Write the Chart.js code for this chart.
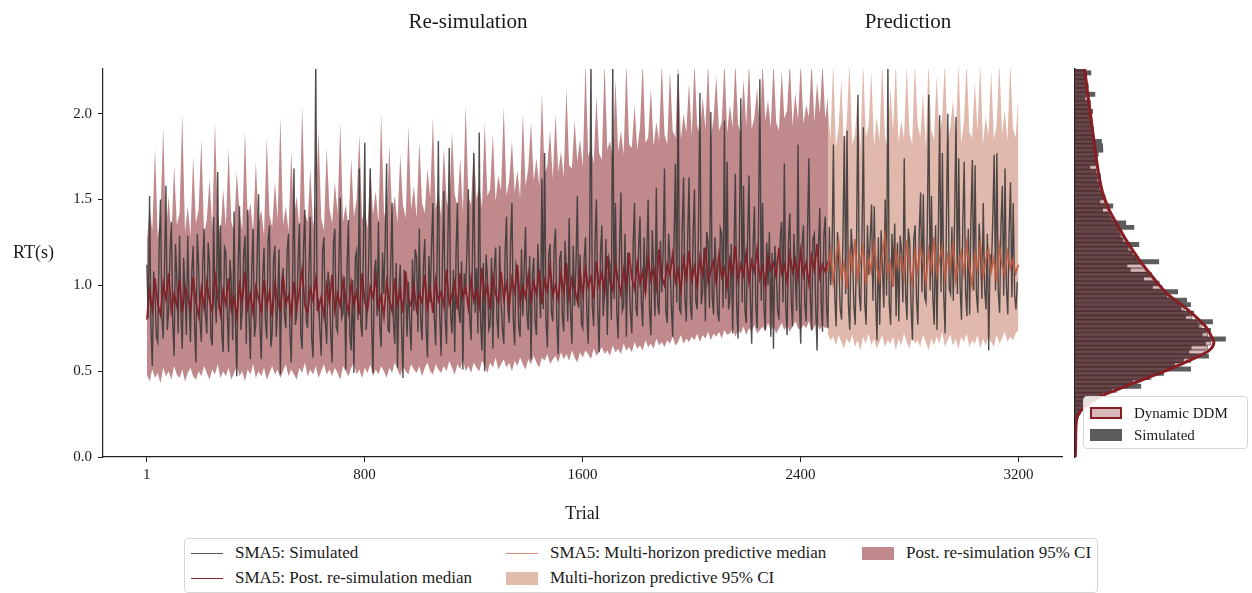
<!DOCTYPE html>
<html>
<head>
<meta charset="utf-8">
<title>SMA5 re-simulation and prediction</title>
<script src="https://cdn.jsdelivr.net/npm/chart.js@4.4.1/dist/chart.umd.min.js"></script>
<style>
  body { margin: 0; background: #fff; font-family: "Liberation Serif", "DejaVu Serif", serif; color: #1a1a1a; }
  #page { position: relative; width: 1252px; height: 593px; overflow: hidden; }
  #main-chart { position: absolute; left: 0; top: 0; }
  #hist-chart { position: absolute; left: 1062px; top: 0; z-index: 2; }
  .txt { position: absolute; white-space: nowrap; }
  .panel-title { font-size: 21px; line-height: 24px; top: 9px; transform: translateX(-50%); }
  #y-title { left: 13px; top: 241px; font-size: 18px; line-height: 22px; }
  .legend-box { position: absolute; border: 1px solid #d6d6d6; border-radius: 4px; background: rgba(255,255,255,0.85); }
  #legend { left: 184px; top: 538px; width: 912px; height: 53px; }
  #hist-legend { left: 1083px; top: 396px; width: 163px; height: 51px; z-index: 3; }
  .item { position: absolute; display: flex; align-items: center; white-space: nowrap; }
  #legend .item { font-size: 17px; height: 20px; }
  #hist-legend .item { font-size: 15px; height: 18px; left: 6px; }
  .sample-line { width: 32px; height: 0; border-top: 1.6px solid; margin-right: 12px; }
  .sample-patch { width: 32px; height: 13px; margin-right: 12px; box-sizing: border-box; }
</style>
</head>
<body>
<div id="page">
  <canvas id="main-chart" width="1070" height="530"></canvas>
  <canvas id="hist-chart" width="190" height="530"></canvas>

  <div class="txt panel-title" style="left:468px">Re-simulation</div>
  <div class="txt panel-title" style="left:908px">Prediction</div>
  <div class="txt" id="y-title">RT(s)</div>

  <div class="legend-box" id="legend"></div>
  <div class="legend-box" id="hist-legend"></div>
</div>

<script>
// --- Данные: симулированный ряд SMA5 (шаг 5 испытаний) ---
const simTrialStart = 1;
const simTrialStep = 5;
const simulated = [
  1.12, 0.81, 1.52, 0.76, 0.53, 1.08, 0.95, 0.70, 0.67, 1.21, 1.50, 0.82, 0.69, 1.12, 1.58, 0.74, 0.85, 1.19, 1.37, 0.78,
  0.59, 1.24, 1.05, 0.72, 1.29, 0.84, 0.63, 1.16, 0.98, 0.71, 1.29, 0.90, 0.67, 1.08, 1.23, 0.77, 0.55, 1.30, 1.11, 0.79,
  0.67, 1.12, 1.33, 0.83, 0.72, 1.25, 1.13, 0.70, 0.65, 1.40, 0.92, 0.78, 1.66, 0.86, 1.35, 0.73, 0.61, 1.22, 1.19, 0.84,
  0.61, 1.15, 1.02, 0.68, 1.43, 0.79, 0.47, 1.10, 1.46, 0.74, 0.85, 1.17, 1.29, 0.66, 1.44, 0.82, 0.57, 1.09, 1.33, 0.70,
  0.78, 1.18, 1.53, 0.76, 0.57, 1.04, 1.22, 0.80, 0.69, 1.26, 1.35, 0.64, 0.72, 1.15, 1.23, 0.70, 0.88, 1.21, 0.48, 1.02,
  1.10, 0.83, 0.75, 1.20, 1.30, 0.73,
  0.55, 1.05, 1.68, 0.77, 0.82, 1.14, 1.36, 0.71, 0.63, 1.22, 1.44, 0.80, 0.75, 1.10, 1.40, 0.69, 0.58, 1.18, 2.30, 0.85,
  0.92, 0.74, 0.59, 1.20, 1.28, 0.79, 0.66, 1.08, 1.00, 0.71, 0.55, 1.25, 1.33, 0.76, 0.73, 1.14, 1.51, 0.81, 0.84, 1.05,
  0.51, 1.12, 1.38, 0.72, 0.62, 1.03, 0.49, 1.16, 1.20, 0.80, 1.68, 0.78, 0.70, 1.24, 1.83, 0.74, 0.88, 1.20, 1.68, 0.77,
  0.49, 1.08, 1.15, 0.82, 1.37, 0.76, 0.64, 1.19, 0.95, 1.27, 1.71, 0.74, 0.73, 1.12, 1.48, 0.79, 0.66, 1.13, 0.52, 0.96,
  1.12, 0.75, 0.46, 1.09, 0.98, 0.70, 1.02, 0.78, 0.62, 1.15, 0.85, 1.21, 1.16, 0.73, 1.33, 0.80, 0.68, 1.11, 1.27, 0.76,
  0.58, 1.17, 0.90, 1.24, 1.48, 0.81,
  0.65, 1.10, 1.84, 0.83, 0.59, 1.15, 1.55, 0.80, 0.66, 1.26, 1.80, 0.82, 0.72, 1.09, 0.61, 1.20, 1.48, 0.85, 0.78, 1.14,
  0.51, 1.07, 0.95, 1.22, 1.56, 0.80, 0.68, 1.17, 1.77, 0.84, 1.10, 0.72, 1.89, 0.78, 0.62, 1.13, 0.50, 1.18, 1.05, 0.74,
  0.77, 1.16, 0.63, 1.09, 1.22, 0.81, 0.69, 1.23, 0.92, 0.75, 0.66, 1.19, 1.40, 0.86, 0.78, 1.25, 1.48, 0.80, 0.65, 1.12,
  1.08, 0.76, 0.70, 1.21, 0.82, 1.10, 1.34, 0.83, 0.74, 1.17, 0.57, 1.06, 1.16, 0.79, 0.71, 1.24, 1.02, 0.81, 1.62, 0.86,
  1.77, 0.80, 0.64, 1.18, 1.24, 0.84, 0.79, 1.22, 1.33, 0.77, 0.60, 1.15, 1.20, 0.82, 0.73, 1.26, 1.05, 0.79, 1.39, 0.84,
  0.66, 1.23, 0.88, 1.11, 1.52, 0.87, 1.18, 0.78,
  0.75, 1.15, 1.28, 0.84, 0.66, 1.20, 2.30, 0.88, 0.76, 1.25, 1.50, 0.86, 0.61, 1.18, 1.35, 0.82, 0.96, 1.27, 0.71, 1.16,
  1.12, 0.80, 2.30, 0.92, 1.48, 0.83, 0.69, 1.22, 1.54, 0.85, 0.88, 1.30, 0.70, 1.19, 1.05, 0.84, 0.72, 1.24, 1.48, 0.87,
  0.82, 1.21, 1.40, 0.90, 0.76, 1.28, 0.95, 1.17, 1.50, 0.86, 0.71, 1.32, 1.10, 0.82, 1.57, 0.89, 0.83, 1.26, 0.96, 1.20,
  1.68, 0.85, 0.78, 1.30, 1.15, 0.88, 0.70, 1.24, 1.71, 0.90, 2.23, 0.86, 0.84, 1.33, 1.63, 0.92, 0.79, 1.27, 1.63, 0.88,
  0.80, 1.29, 1.56, 0.91, 0.86, 1.35, 2.12, 0.89, 0.96, 1.22, 0.79, 1.31, 1.25, 0.87, 2.01, 0.93, 0.83, 1.28, 1.10, 0.84,
  0.79, 1.33, 1.30, 0.87, 1.96, 0.92, 1.72, 0.86,
  0.92, 1.24, 0.72, 1.18, 1.65, 0.88, 0.69, 1.30, 2.09, 0.90, 1.58, 0.86, 0.78, 1.27, 1.64, 0.92, 0.66, 1.22, 1.46, 0.89,
  0.75, 1.33, 2.20, 0.91, 1.48, 0.87, 0.74, 1.25, 1.00, 1.31, 0.70, 1.19, 0.63, 1.23, 1.10, 0.86, 0.80, 1.28, 1.37, 0.90,
  1.71, 0.88, 0.71, 1.26, 1.42, 0.92, 0.76, 1.30, 1.05, 0.85, 1.82, 0.91, 0.66, 1.24, 1.35, 0.89, 0.79, 1.32, 1.74, 0.93,
  0.74, 1.27, 1.30, 0.88, 0.62, 1.21, 1.45, 0.90, 0.73, 1.29, 1.40, 0.87, 0.75, 1.34, 1.00, 1.20, 1.82, 0.93, 0.76, 1.31,
  1.12, 0.86, 0.80, 1.28, 1.87, 0.95, 1.90, 0.89, 0.74, 1.33, 1.20, 0.88, 0.77, 1.26, 2.11, 0.94, 0.85, 1.30, 1.92, 0.90,
  0.77, 1.35, 1.06, 1.27, 1.47, 0.91,
  1.46, 0.92, 0.68, 1.28, 0.77, 1.32, 1.10, 0.87, 1.50, 0.94, 2.30, 0.89, 0.77, 1.30, 1.05, 1.36, 0.82, 1.25, 0.79, 1.29,
  1.20, 0.90, 1.74, 0.95, 0.80, 1.33, 1.25, 0.88, 0.68, 1.27, 1.35, 0.92, 0.77, 1.31, 1.54, 0.96, 1.53, 0.93, 0.90, 1.38,
  2.11, 0.97, 1.52, 0.93, 0.77, 1.35, 0.74, 1.29, 1.99, 0.96, 1.77, 0.94, 0.72, 1.40, 2.00, 0.98, 0.95, 1.34, 0.91, 1.42,
  1.98, 0.95, 1.74, 0.99, 0.80, 1.37, 1.72, 0.96, 0.82, 1.33, 0.83, 1.41, 1.73, 0.97, 1.70, 0.95, 0.84, 1.36, 1.20, 0.92,
  1.48, 0.98, 0.86, 1.30, 0.62, 1.18, 1.10, 1.39, 1.76, 0.97, 1.77, 0.96, 0.84, 1.35, 1.58, 0.94, 1.68, 0.99, 0.83, 1.32,
  1.60, 0.93, 1.48, 0.95, 0.86, 1.02
];

// --- Пост. ре-симуляция: медиана и 95% ДИ (шаг 10, испытания 1..2501) ---
const resimTrialStart = 1;
const resimTrialStep = 10;
const resimMedian = [
  0.80, 0.97, 0.86, 1.04, 0.89, 0.83, 1.01, 0.92, 1.07, 0.85, 0.95, 0.88, 1.03, 0.84, 0.99, 0.93, 0.86, 1.05, 0.90, 0.82,
  0.98, 0.87, 1.02, 0.91, 0.85, 1.06, 0.94, 0.83, 0.97, 0.89, 1.04, 0.86, 0.93, 0.81, 1.00, 0.90, 1.08, 0.87, 0.95, 0.84,
  0.99, 0.92, 0.85, 1.03, 0.88, 0.96, 0.82, 1.01, 0.91, 0.86, 1.05, 0.89, 0.94, 0.83, 1.02, 0.87, 0.97, 1.09, 0.88, 0.84,
  0.98, 0.91, 1.04, 0.86, 0.93, 0.82, 1.00, 0.90, 1.06, 0.85, 0.95, 0.88, 1.03, 0.92, 0.84, 1.01, 0.89, 0.96, 0.83, 1.07,
  0.90, 0.86, 0.99, 0.93, 1.05, 0.87, 0.94, 0.82, 1.02, 0.91, 0.85, 1.04, 0.89, 0.97, 0.84, 1.08, 0.92, 0.88, 1.00, 0.86,
  0.95, 0.90, 1.06, 0.87, 0.98, 0.84, 1.03, 0.91, 0.96, 0.88, 1.09, 0.89, 0.94, 1.02, 0.86, 1.07, 0.93, 0.99, 0.87, 1.04,
  0.91, 0.97, 0.88, 1.10, 0.93, 1.00, 0.86, 1.05, 0.95, 0.90, 1.08, 0.92, 1.01, 0.88, 1.04, 0.96, 1.12, 0.90, 0.99, 0.93,
  1.06, 0.91, 1.02, 0.95, 1.09, 0.89, 1.03, 0.97, 1.11, 0.94, 1.00, 0.92, 1.07, 0.96, 1.13, 0.93, 1.04, 0.98, 0.91, 1.08,
  0.95, 1.10, 0.99, 1.05, 0.92, 1.14, 1.00, 1.07, 0.96, 1.17, 1.02, 0.97, 1.12, 1.03, 0.95, 1.09, 1.00, 1.19, 1.04, 0.98,
  1.13, 1.01, 1.08, 0.96, 1.16, 1.03, 1.10, 0.99, 1.21, 1.05, 1.00, 1.12, 1.06, 1.18, 1.02, 1.09, 0.97, 1.15, 1.04, 1.20,
  1.03, 1.11, 0.99, 1.16, 1.06, 1.22, 1.02, 1.09, 1.14, 1.01, 1.18, 1.05, 1.10, 0.99, 1.15, 1.07, 1.23, 1.03, 1.12, 1.06,
  1.19, 1.02, 1.14, 1.08, 1.21, 1.04, 1.11, 1.00, 1.17, 1.09, 1.13, 1.05, 1.22, 1.07, 1.12, 1.02, 1.18, 1.08, 1.15, 1.04,
  1.20, 1.06, 1.13, 1.01, 1.17, 1.09, 1.24, 1.05, 1.12, 1.08, 1.14
];
const resimLower = [
  0.48, 0.44, 0.51, 0.46, 0.49, 0.43, 0.52, 0.47, 0.50, 0.45, 0.53, 0.48, 0.46, 0.51, 0.44, 0.49, 0.52, 0.47, 0.45, 0.50,
  0.47, 0.53, 0.49, 0.45, 0.51, 0.48, 0.54, 0.46, 0.50, 0.47, 0.52, 0.45, 0.49, 0.53, 0.47, 0.50, 0.44, 0.51, 0.48, 0.54,
  0.46, 0.50, 0.47, 0.52, 0.45, 0.49, 0.53, 0.48, 0.51, 0.46, 0.50, 0.54, 0.47, 0.51, 0.48, 0.45, 0.52, 0.49, 0.55, 0.47,
  0.51, 0.48, 0.53, 0.46, 0.50, 0.54, 0.48, 0.51, 0.47, 0.52, 0.49, 0.45, 0.53, 0.50, 0.47, 0.52, 0.55, 0.48, 0.51, 0.46,
  0.52, 0.49, 0.54, 0.47, 0.51, 0.48, 0.53, 0.50, 0.46, 0.52, 0.49, 0.55, 0.51, 0.47, 0.53, 0.50, 0.48, 0.54, 0.51, 0.49,
  0.53, 0.47, 0.52, 0.55, 0.50, 0.48, 0.54, 0.51, 0.49, 0.53, 0.50, 0.56, 0.52, 0.48, 0.54, 0.51, 0.57, 0.50, 0.53, 0.49,
  0.55, 0.52, 0.50, 0.56, 0.53, 0.49, 0.55, 0.52, 0.58, 0.51, 0.54, 0.57, 0.52, 0.55, 0.50, 0.56, 0.53, 0.58, 0.54, 0.51,
  0.57, 0.54, 0.59, 0.55, 0.52, 0.58, 0.56, 0.60, 0.54, 0.57, 0.59, 0.55, 0.61, 0.57, 0.60, 0.56, 0.62, 0.58, 0.55, 0.61,
  0.58, 0.62, 0.60, 0.57, 0.63, 0.59, 0.61, 0.64, 0.60, 0.62, 0.59, 0.65, 0.61, 0.63, 0.60, 0.66, 0.62, 0.64, 0.61, 0.67,
  0.63, 0.65, 0.62, 0.68, 0.64, 0.66, 0.63, 0.69, 0.65, 0.67, 0.64, 0.68, 0.66, 0.70, 0.65, 0.67, 0.71, 0.66, 0.69, 0.67,
  0.70, 0.68, 0.72, 0.67, 0.71, 0.69, 0.73, 0.68, 0.72, 0.70, 0.73, 0.69, 0.74, 0.71, 0.72, 0.75, 0.70, 0.74, 0.72, 0.76,
  0.71, 0.75, 0.73, 0.77, 0.72, 0.74, 0.76, 0.73, 0.78, 0.74, 0.76, 0.72, 0.75, 0.78, 0.74, 0.77, 0.73, 0.76, 0.79, 0.75,
  0.74, 0.77, 0.75, 0.79, 0.73, 0.76, 0.78, 0.74, 0.77, 0.75, 0.76
];
const resimUpper = [
  1.25, 1.45, 1.32, 1.80, 1.28, 1.40, 1.92, 1.30, 1.52, 1.27, 1.70, 1.35, 1.42, 2.00, 1.31, 1.46, 1.29, 1.75, 1.36, 1.44,
  1.85, 1.30, 1.38, 1.62, 1.33, 1.95, 1.40, 1.29, 1.56, 1.34, 1.80, 1.37, 1.31, 1.66, 1.43, 1.32, 1.90, 1.39, 1.48, 1.31,
  1.72, 1.36, 1.44, 1.29, 1.86, 1.41, 1.34, 1.60, 1.38, 1.98, 1.35, 1.46, 1.31, 1.78, 1.40, 1.52, 1.33, 2.05, 1.42, 1.37,
  1.68, 1.34, 1.48, 1.90, 1.39, 1.32, 1.80, 1.45, 1.36, 1.60, 1.42, 1.95, 1.37, 1.47, 1.33, 1.74, 1.40, 1.50, 1.88, 1.38,
  1.45, 1.33, 1.70, 1.41, 1.55, 1.36, 2.00, 1.43, 1.35, 1.82, 1.42, 1.52, 1.36, 1.76, 1.47, 1.39, 1.93, 1.44, 1.58, 1.39,
  1.84, 1.48, 1.42, 1.68, 1.51, 1.98, 1.44, 1.55, 1.40, 1.80, 1.50, 1.43, 1.90, 1.53, 1.46, 1.74, 1.42, 2.05, 1.52, 1.47,
  1.80, 1.50, 1.59, 1.45, 1.95, 1.52, 1.56, 1.88, 1.49, 1.64, 1.55, 2.04, 1.52, 1.61, 1.84, 1.54, 1.67, 1.51, 2.00, 1.58,
  1.68, 1.95, 1.61, 1.74, 1.58, 2.12, 1.65, 1.70, 1.90, 1.62, 2.00, 1.66, 1.78, 1.63, 2.15, 1.70, 1.68, 1.96, 1.72, 1.85,
  1.69, 2.30, 1.75, 1.80, 1.71, 2.10, 1.77, 1.73, 2.30, 1.79, 1.84, 1.74, 2.20, 1.78, 1.90, 1.76, 2.30, 1.82, 1.80, 2.05,
  1.79, 1.92, 2.30, 1.83, 1.86, 2.15, 1.81, 1.95, 1.84, 2.30, 1.88, 1.82, 2.25, 1.90, 1.86, 2.30, 1.85, 2.00, 1.89, 2.18,
  1.87, 2.30, 1.93, 1.88, 2.10, 1.91, 2.30, 1.86, 1.97, 2.22, 1.90, 1.95, 2.30, 1.89, 2.05, 1.92, 2.30, 1.94, 1.88, 2.20,
  1.93, 2.30, 1.91, 1.98, 2.15, 1.90, 2.30, 1.96, 2.08, 1.92, 2.30, 1.95, 1.90, 2.25, 1.97, 2.02, 2.30, 1.93, 2.12, 1.96,
  2.30, 1.94, 2.05, 1.98, 2.30, 1.95, 2.18, 2.00, 2.30, 1.97, 2.10
];

// --- Многогоризонтный прогноз: медиана и 95% ДИ (шаг 10, испытания 2500..3200) ---
const predTrialStart = 2500;
const predTrialStep = 10;
const predMedian = [
  1.08, 1.20, 1.02, 1.15, 1.25, 1.05, 1.13, 0.98, 1.19, 1.09, 1.27, 1.04, 1.14, 1.22, 1.00, 1.16, 1.08, 1.24, 1.11, 1.03,
  1.18, 1.29, 1.06, 1.13, 0.99, 1.21, 1.10, 1.17, 1.05, 1.26, 1.12, 1.02, 1.19, 1.08, 1.23, 1.14, 1.01, 1.20, 1.09, 1.28,
  1.06, 1.15, 1.22, 1.04, 1.17, 1.10, 1.25, 1.03, 1.13, 1.19, 1.07, 1.24, 1.11, 1.00, 1.18, 1.09, 1.26, 1.05, 1.14, 1.21,
  1.08, 1.16, 1.02, 1.23, 1.12, 1.06, 1.19, 1.10, 1.15, 1.07, 1.12
];
const predLower = [
  0.72, 0.68, 0.70, 0.65, 0.71, 0.67, 0.63, 0.69, 0.66, 0.71, 0.64, 0.68, 0.62, 0.70, 0.66, 0.72, 0.65, 0.69, 0.63, 0.67,
  0.71, 0.64, 0.68, 0.66, 0.70, 0.62, 0.69, 0.65, 0.72, 0.67, 0.63, 0.70, 0.66, 0.68, 0.64, 0.71, 0.67, 0.62, 0.69, 0.65,
  0.70, 0.66, 0.73, 0.64, 0.68, 0.71, 0.65, 0.69, 0.63, 0.70, 0.67, 0.72, 0.64, 0.68, 0.66, 0.71, 0.63, 0.69, 0.65, 0.70,
  0.67, 0.64, 0.71, 0.66, 0.69, 0.73, 0.67, 0.70, 0.68, 0.72, 0.74
];
const predUpper = [
  2.05, 1.85, 2.30, 1.80, 1.92, 2.20, 1.78, 1.95, 2.30, 1.82, 1.88, 2.10, 1.79, 2.30, 1.86, 1.93, 2.25, 1.81, 1.98, 1.84,
  2.30, 1.87, 1.80, 2.15, 1.90, 2.30, 1.83, 1.96, 1.85, 2.28, 1.89, 1.82, 2.30, 1.94, 1.86, 2.12, 1.80, 2.30, 1.91, 1.85,
  2.22, 1.88, 1.97, 2.30, 1.84, 1.92, 2.08, 1.87, 2.30, 1.83, 1.95, 2.30, 1.89, 1.86, 2.18, 1.90, 2.30, 1.82, 1.98, 1.87,
  2.25, 1.85, 1.93, 2.30, 1.88, 2.02, 1.84, 2.30, 1.91, 1.86, 2.10
];

// --- Гистограмма RT (плотность), бины по 0.025 начиная с 0.15 ---
const binStart = 0.15;
const binWidth = 0.025;
const ddmHist = [
  0.010, 0.012, 0.018, 0.027, 0.050, 0.080, 0.135, 0.185, 0.255, 0.375,
  0.480, 0.560, 0.690, 0.760, 0.860, 0.940, 1.050, 1.100, 1.180, 1.200,
  1.230, 1.220, 1.200, 1.180, 1.150, 1.100, 1.060, 1.030, 0.990, 0.940,
  0.890, 0.850, 0.820, 0.790, 0.740, 0.710, 0.670, 0.640, 0.610, 0.580,
  0.550, 0.520, 0.500, 0.470, 0.450, 0.430, 0.410, 0.390, 0.370, 0.345,
  0.320, 0.300, 0.290, 0.275, 0.260, 0.245, 0.235, 0.230, 0.222, 0.215,
  0.208, 0.200, 0.196, 0.190, 0.185, 0.180, 0.175, 0.170, 0.165, 0.160,
  0.155, 0.150, 0.145, 0.140, 0.136, 0.132, 0.127, 0.122, 0.117, 0.112,
  0.108, 0.103, 0.098, 0.092, 0.087, 0.082
];
const simHist = [
  0.005, 0.009, 0.014, 0.030, 0.045, 0.072, 0.120, 0.190, 0.250, 0.330,
  0.595, 0.520, 0.667, 0.800, 1.045, 0.900, 0.980, 1.207, 1.030, 1.050,
  1.180, 1.360, 1.150, 1.225, 1.120, 1.243, 1.000, 1.072, 0.960, 1.045,
  1.009, 0.830, 0.928, 0.700, 0.760, 0.620, 0.690, 0.500, 0.470, 0.757,
  0.560, 0.520, 0.480, 0.577, 0.430, 0.410, 0.400, 0.532, 0.459, 0.330,
  0.310, 0.250, 0.342, 0.225, 0.270, 0.250, 0.220, 0.240, 0.200, 0.230,
  0.190, 0.135, 0.200, 0.180, 0.210, 0.252, 0.250, 0.240, 0.170, 0.150,
  0.165, 0.140, 0.155, 0.130, 0.160, 0.125, 0.140, 0.090, 0.180, 0.110,
  0.120, 0.095, 0.105, 0.144, 0.085, 0.110
];
const kdeRt = [0.00, 0.10, 0.18, 0.24, 0.29, 0.35, 0.39, 0.45, 0.51, 0.57, 0.62, 0.67, 0.70, 0.76,
               0.86, 0.95, 1.05, 1.15, 1.25, 1.34, 1.44, 1.54, 1.63, 1.73, 1.93, 2.12, 2.30];
const kdeDensity = [0.003, 0.006, 0.009, 0.024, 0.084, 0.219, 0.369, 0.610, 0.850, 1.060, 1.210, 1.255, 1.234, 1.180,
                    1.015, 0.835, 0.700, 0.579, 0.475, 0.394, 0.309, 0.250, 0.219, 0.195, 0.153, 0.114, 0.080];

// --- Оси ---
const xTicks = [1, 800, 1600, 2400, 3200];
const yTicks = [0, 0.5, 1.0, 1.5, 2.0];
const xMin = -160, xMax = 3360;
const yMin = 0, yMax = 2.26;

// --- Цвета ---
const colors = {
  simulated: 'rgba(62, 58, 58, 0.9)',
  resimMedian: 'rgba(128, 30, 36, 0.9)',
  predMedian: 'rgba(188, 92, 66, 0.9)',
  resimCI: 'rgba(140, 40, 45, 0.55)',
  predCI: 'rgba(190, 100, 75, 0.46)',
  axis: '#222',
  histSim: '#5c5c5c',
  histDdm: 'rgba(130, 30, 35, 0.3)',
  kde: 'rgb(135, 30, 36)'
};

const serif = '"Liberation Serif", "DejaVu Serif", serif';
Chart.defaults.font.family = serif;
Chart.defaults.color = '#1a1a1a';

const toPoints = (values, start, step) => values.map((v, i) => ({ x: start + i * step, y: v }));

// --- Основной график ---
const lineStyle = { pointRadius: 0, borderJoinStyle: 'miter', tension: 0 };

new Chart(document.getElementById('main-chart'), {
  type: 'line',
  data: {
    datasets: [
      { label: 'resimLower', data: toPoints(resimLower, resimTrialStart, resimTrialStep), borderWidth: 0,
        borderColor: 'transparent', fill: false, order: 21, ...lineStyle },
      { label: 'Post. re-simulation 95% CI', data: toPoints(resimUpper, resimTrialStart, resimTrialStep), borderWidth: 0,
        borderColor: 'transparent', backgroundColor: colors.resimCI, fill: '-1', order: 20, ...lineStyle },
      { label: 'predLower', data: toPoints(predLower, predTrialStart, predTrialStep), borderWidth: 0,
        borderColor: 'transparent', fill: false, order: 19, ...lineStyle },
      { label: 'Multi-horizon predictive 95% CI', data: toPoints(predUpper, predTrialStart, predTrialStep), borderWidth: 0,
        borderColor: 'transparent', backgroundColor: colors.predCI, fill: '-1', order: 18, ...lineStyle },
      { label: 'SMA5: Simulated', data: toPoints(simulated, simTrialStart, simTrialStep),
        borderColor: colors.simulated, borderWidth: 1.4, fill: false, order: 10, ...lineStyle },
      { label: 'SMA5: Post. re-simulation median', data: toPoints(resimMedian, resimTrialStart, resimTrialStep),
        borderColor: colors.resimMedian, borderWidth: 1.8, fill: false, order: 5, ...lineStyle },
      { label: 'SMA5: Multi-horizon predictive median', data: toPoints(predMedian, predTrialStart, predTrialStep),
        borderColor: colors.predMedian, borderWidth: 1.8, fill: false, order: 4, ...lineStyle }
    ]
  },
  options: {
    responsive: false,
    animation: false,
    devicePixelRatio: 1,
    layout: { padding: { left: 0, right: 8, top: 69, bottom: 0 } },
    plugins: { legend: { display: false }, tooltip: { enabled: false } },
    scales: {
      x: {
        type: 'linear', min: xMin, max: xMax,
        afterBuildTicks: (axis) => { axis.ticks = xTicks.map(v => ({ value: v })); },
        afterFit: (axis) => { axis.height = 73; },
        grid: { display: true, drawOnChartArea: false, drawTicks: true, tickLength: 5, color: colors.axis },
        border: { display: true, color: colors.axis, width: 1.2 },
        ticks: { font: { size: 15 }, color: '#1a1a1a', padding: 4, maxRotation: 0, autoSkip: false,
                 callback: (v) => String(v) },
        title: { display: true, text: 'Trial', font: { size: 18 }, color: '#1a1a1a', padding: { top: 0, bottom: 5 } }
      },
      y: {
        type: 'linear', min: yMin, max: yMax,
        afterBuildTicks: (axis) => { axis.ticks = yTicks.map(v => ({ value: v })); },
        afterFit: (axis) => { axis.width = 103; },
        grid: { display: true, drawOnChartArea: false, drawTicks: true, tickLength: 5, color: colors.axis },
        border: { display: true, color: colors.axis, width: 1.2 },
        ticks: { font: { size: 15 }, color: '#1a1a1a', padding: 6, callback: (v) => v.toFixed(1) }
      }
    }
  }
});

// --- Гистограмма справа ---
const binCenters = ddmHist.map((_, i) => binStart + binWidth * (i + 0.5));

new Chart(document.getElementById('hist-chart'), {
  type: 'bar',
  data: {
    datasets: [
      { label: 'Simulated', data: simHist.map((v, i) => ({ x: v, y: binCenters[i] })),
        backgroundColor: colors.histSim, borderWidth: 0, grouped: false,
        barPercentage: 1, categoryPercentage: 1, order: 3 },
      { label: 'Dynamic DDM', data: ddmHist.map((v, i) => ({ x: v, y: binCenters[i] })),
        backgroundColor: colors.histDdm, borderColor: 'rgba(60, 25, 28, 0.45)', borderWidth: 0.7, grouped: false,
        barPercentage: 1, categoryPercentage: 1, order: 2 },
      { type: 'line', label: 'kde', data: kdeDensity.map((v, i) => ({ x: v, y: kdeRt[i] })),
        borderColor: colors.kde, borderWidth: 3, pointRadius: 0, fill: false,
        cubicInterpolationMode: 'monotone', order: 1 }
    ]
  },
  options: {
    indexAxis: 'y',
    responsive: false,
    animation: false,
    devicePixelRatio: 1,
    layout: { padding: { left: 0, right: 11, top: 69, bottom: 73 } },
    plugins: { legend: { display: false }, tooltip: { enabled: false } },
    scales: {
      x: { type: 'linear', min: 0, max: 1.5, display: false },
      y: {
        type: 'linear', min: yMin, max: yMax, offset: false,
        afterFit: (axis) => { axis.width = 13; },
        grid: { display: true, drawOnChartArea: false, drawTicks: false, offset: false },
        border: { display: true, color: colors.axis, width: 1.5 },
        ticks: { display: false }
      }
    }
  }
});

// --- HTML-легенды ---
const legendItems = [
  { kind: 'line', color: 'rgb(85, 85, 85)', text: 'SMA5: Simulated', left: 6, top: 4 },
  { kind: 'line', color: 'rgb(140, 40, 45)', text: 'SMA5: Post. re-simulation median', left: 6, top: 29 },
  { kind: 'line', color: 'rgb(214, 140, 115)', text: 'SMA5: Multi-horizon predictive median', left: 321, top: 4 },
  { kind: 'patch', color: 'rgb(225, 187, 172)', text: 'Multi-horizon predictive 95% CI', left: 321, top: 29 },
  { kind: 'patch', color: 'rgb(192, 138, 140)', text: 'Post. re-simulation 95% CI', left: 677, top: 4 }
];
const legendEl = document.getElementById('legend');
legendItems.forEach(item => {
  const div = document.createElement('div');
  div.className = 'item';
  div.style.left = item.left + 'px';
  div.style.top = item.top + 'px';
  const sample = document.createElement('span');
  if (item.kind === 'line') {
    sample.className = 'sample-line';
    sample.style.borderTopColor = item.color;
  } else {
    sample.className = 'sample-patch';
    sample.style.background = item.color;
  }
  const label = document.createElement('span');
  label.textContent = item.text;
  div.append(sample, label);
  legendEl.appendChild(div);
});

const histLegendItems = [
  { text: 'Dynamic DDM', fill: 'rgb(215, 185, 186)', border: '2.5px solid rgb(135, 30, 36)', top: 7 },
  { text: 'Simulated', fill: colors.histSim, border: 'none', top: 29 }
];
const histLegendEl = document.getElementById('hist-legend');
histLegendItems.forEach(item => {
  const div = document.createElement('div');
  div.className = 'item';
  div.style.top = item.top + 'px';
  const sample = document.createElement('span');
  sample.className = 'sample-patch';
  sample.style.background = item.fill;
  sample.style.border = item.border;
  sample.style.height = '12px';
  const label = document.createElement('span');
  label.textContent = item.text;
  div.append(sample, label);
  histLegendEl.appendChild(div);
});
</script>
</body>
</html>
